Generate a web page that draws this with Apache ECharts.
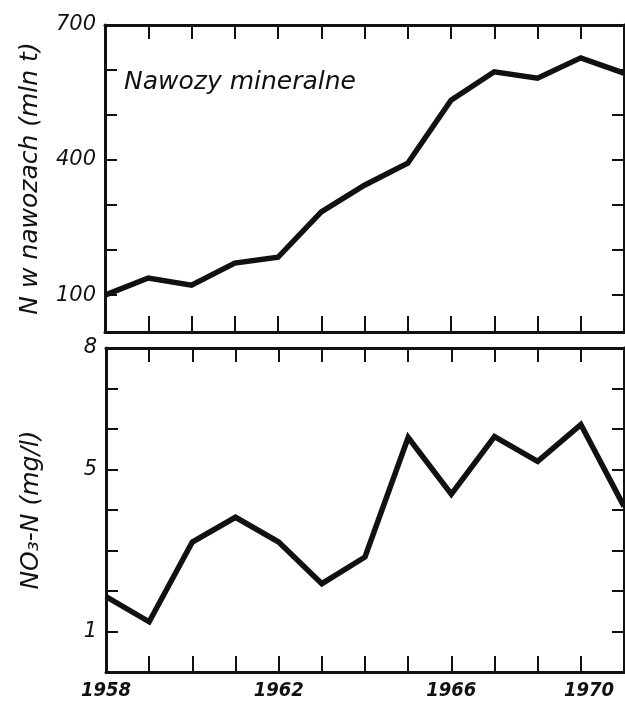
<!DOCTYPE html>
<html><head><meta charset="utf-8">
<script src="https://cdn.jsdelivr.net/npm/echarts@6/dist/echarts.min.js"></script>
<style>html,body{margin:0;padding:0;background:#fff}#c{width:625px;height:702px}</style>
</head><body><div id="c"></div>
<script>
const years = [1958,1959,1960,1961,1962,1963,1964,1965,1966,1967,1968,1969,1970];
const fertilizer = [100,138,122,171,184,285,344,393,533,596,582,627,593];
const nitrate = [1.86,1.24,3.21,3.82,3.21,2.18,2.84,5.79,4.39,5.81,5.2,6.11,4.09];
const xLabelYears = [1958,1962,1966,1970];
const topTicks = [100,200,300,400,500,600];
const topLabels = [100,400,700];
const botTicks = [1,2,3,4,5,6,7];
const botLabels = [1,5,8];
const topTitle = 'N w nawozach (mln t)';
const botTitle = 'NO\u2083-N (mg/l)';
const panelText = 'Nawozy mineralne';

const FONT_C = '"DejaVu Sans Condensed", "DejaVu Sans", sans-serif';
const FONT = '"DejaVu Sans", sans-serif';
const INK = '#111';
const axisLine = {show:true, onZero:false, lineStyle:{color:INK, width:3}};

function xAx(grid, pos, labels){
  return {
    type:'value', gridIndex:grid, position:pos, min:1958, max:1970, interval:1,
    axisLine: axisLine,
    axisTick:{show:true, inside:true, length: pos==='top'?14:16, lineStyle:{color:INK,width:2}},
    axisLabel: labels ? {
      show:true, margin:9, color:INK, fontFamily:FONT_C, fontStyle:'italic', fontWeight:'bold', fontSize:20,
      formatter:function(v){
        if (xLabelYears.indexOf(v) < 0) return '';
        if (v === 1970) return '{r|' + v + '}';
        return String(v);
      },
      rich:{r:{padding:[0,10,0,0], fontFamily:FONT_C, fontStyle:'italic', fontWeight:'bold', fontSize:20, color:INK}},
      alignMaxLabel:'right'
    } : {show:false},
    splitLine:{show:false}
  };
}
function yAx(grid, pos, min, max, ticks, labels, name, nameGap){
  const o = {
    type:'value', gridIndex:grid, position:pos, min:min, max:max,
    axisLine: axisLine,
    axisTick:{show:true, inside:true, length:12, lineStyle:{color:INK,width:2}, customValues:ticks},
    axisLabel: labels ? {show:true, customValues:labels, margin:9, color:INK, fontFamily:FONT, fontStyle:'italic', fontSize:21} : {show:false},
    splitLine:{show:false}
  };
  if (name) {
    o.name = name; o.nameLocation = 'middle'; o.nameGap = nameGap;
    o.nameTextStyle = {color:INK, fontFamily:FONT, fontStyle:'italic', fontSize:25};
  }
  return o;
}

const chart = echarts.init(document.getElementById('c'), null, {renderer:'canvas'});
chart.setOption({
  backgroundColor:'#fff',
  animation:false,
  grid:[
    {left:105, top:25, width:519, height:307},
    {left:106, top:348, width:518, height:324}
  ],
  xAxis:[ xAx(0,'bottom',false), xAx(0,'top',false), xAx(1,'bottom',true), xAx(1,'top',false) ],
  yAxis:[
    yAx(0,'left',18,700,topTicks,topLabels,topTitle,62),
    yAx(0,'right',18,700,topTicks,null,null),
    yAx(1,'left',0,8,botTicks,botLabels,botTitle,62),
    yAx(1,'right',0,8,botTicks,null,null)
  ],
  graphic:[{
    type:'text', left:124, top:70,
    style:{text:panelText, fill:INK, font:'italic 25px "DejaVu Sans", sans-serif'}
  }],
  series:[
    {type:'line', xAxisIndex:0, yAxisIndex:0, data:years.map((y,i)=>[y,fertilizer[i]]),
     symbol:'none', lineStyle:{color:INK, width:5.5, join:'miter'}, clip:true},
    {type:'line', xAxisIndex:2, yAxisIndex:2, data:years.map((y,i)=>[y,nitrate[i]]),
     symbol:'none', lineStyle:{color:INK, width:5.5, join:'miter'}, clip:true}
  ]
});
</script></body></html>
